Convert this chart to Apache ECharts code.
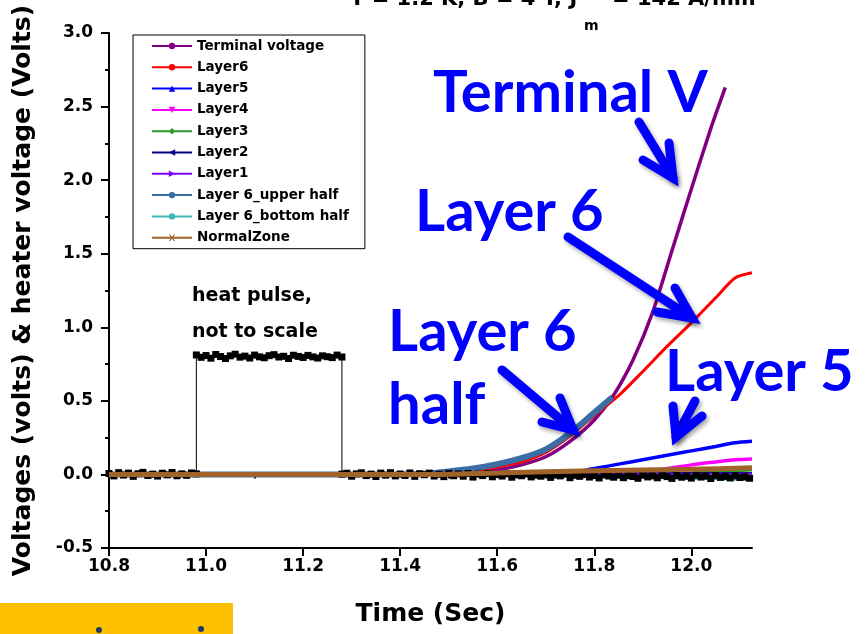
<!DOCTYPE html>
<html>
<head>
<meta charset="utf-8">
<script src="https://cdn.jsdelivr.net/npm/echarts@6/dist/echarts.min.js"></script>
<style>
  html, body { margin: 0; padding: 0; background: #ffffff; }
  #chart { width: 865px; height: 634px; }
</style>
</head>
<body>
<div id="chart"></div>
<script>
// ---- Axis ticks ----
const xMajorTicks = [10.8, 11.0, 11.2, 11.4, 11.6, 11.8, 12.0];
const xMinorTicks = [10.9, 11.1, 11.3, 11.5, 11.7, 11.9, 12.1];

// ---- Quench voltages (time in s, voltage in V) ----
const terminalTime = [10.80, 11.45, 11.50, 11.55, 11.60, 11.65, 11.70, 11.75, 11.80, 11.84, 11.88, 11.92, 11.96, 12.00, 12.04, 12.07];
const terminalVolt = [0.000, 0.000, 0.005, 0.015, 0.030, 0.065, 0.120, 0.225, 0.370, 0.540, 0.780, 1.100, 1.520, 1.940, 2.350, 2.630];

const layer6Time = [10.80, 11.45, 11.50, 11.55, 11.60, 11.65, 11.70, 11.75, 11.80, 11.85, 11.90, 11.95, 12.00, 12.05, 12.09, 12.125];
const layer6Volt = [0.000, 0.000, 0.010, 0.025, 0.050, 0.085, 0.150, 0.260, 0.400, 0.535, 0.700, 0.870, 1.030, 1.200, 1.335, 1.370];

const layer5Time = [10.80, 11.70, 11.75, 11.80, 11.85, 11.90, 11.95, 12.00, 12.05, 12.09, 12.125];
const layer5Volt = [0.000, 0.000, 0.012, 0.040, 0.070, 0.100, 0.130, 0.160, 0.190, 0.215, 0.225];

const layer4Time = [10.80, 11.85, 11.90, 11.95, 12.00, 12.05, 12.09, 12.125];
const layer4Volt = [0.000, 0.000, 0.015, 0.040, 0.065, 0.085, 0.100, 0.105];

const layer3Time = [10.80, 11.90, 12.00, 12.125];
const layer3Volt = [0.000, 0.000, 0.010, 0.030];

const layer2Time = [10.80, 12.125];
const layer2Volt = [0.000, 0.010];

const layer1Time = [10.80, 12.125];
const layer1Volt = [0.000, 0.005];

const upperHalfTime = [10.80, 11.40, 11.45, 11.50, 11.55, 11.60, 11.65, 11.70, 11.75, 11.80, 11.837];
const upperHalfVolt = [0.000, 0.000, 0.005, 0.020, 0.040, 0.070, 0.110, 0.170, 0.280, 0.420, 0.525];

const bottomHalfTime = [10.80, 11.50, 11.70, 11.90, 12.125];
const bottomHalfVolt = [0.000, 0.000, -0.010, -0.020, -0.035];

const normalZoneTime = [10.80, 11.45, 11.60, 11.80, 12.00, 12.125];
const normalZoneVolt = [0.000, 0.000, 0.010, 0.025, 0.035, 0.045];

// ---- Heater trace, sampled every 10 ms ----
const heaterStep = 0.01;
const heaterPreStart = 10.80;   // before the pulse
const heaterPre = [0.006, -0.010, 0.012, -0.004, 0.009, -0.013, 0.005, 0.014, -0.007, 0.002,
                   -0.011, 0.008, -0.003, 0.013, -0.009, 0.004, -0.006, 0.010];
const heaterOnStart = 10.98;    // pulse plateau
const heaterOn = [0.812, 0.796, 0.808, 0.790, 0.815, 0.801, 0.788, 0.806, 0.817, 0.797,
                  0.804, 0.791, 0.811, 0.799, 0.793, 0.807, 0.814, 0.798, 0.803, 0.788,
                  0.810, 0.802, 0.795, 0.809, 0.799, 0.791, 0.806, 0.800, 0.794, 0.811, 0.798];
const heaterPostStart = 11.29;  // after the pulse
const heaterPost = [0.008, -0.012, 0.004, 0.011, -0.008, 0.002, -0.014, 0.009, -0.005, 0.012,
                    -0.010, 0.003, -0.007, 0.010, -0.013, 0.005, -0.002, 0.009, -0.011, 0.001,
                    -0.015, 0.007, -0.009, 0.004, -0.012, 0.006, -0.018, 0.002, -0.008, 0.005,
                    -0.016, -0.001, -0.011, 0.004, -0.019, -0.003, -0.009, 0.003, -0.017, -0.005,
                    -0.012, 0.001, -0.020, -0.004, -0.010, 0.002, -0.022, -0.006, -0.013, -0.001,
                    -0.018, -0.008, -0.024, -0.003, -0.011, -0.019, -0.005, -0.022, -0.009, -0.014,
                    -0.026, -0.004, -0.017, -0.010, -0.023, -0.006, -0.015, -0.027, -0.008, -0.019,
                    -0.012, -0.025, -0.005, -0.018, -0.011, -0.028, -0.007, -0.020, -0.013, -0.024,
                    -0.009, -0.021, -0.016, -0.026];

function zip(ts, vs) { return ts.map((t, i) => [t, vs[i]]); }
function sampled(start, vals) {
  return vals.map((v, i) => [+(start + i * heaterStep).toFixed(3), v]);
}
const heaterData = []
  .concat(sampled(heaterPreStart, heaterPre))
  .concat([[heaterOnStart, 0.004]])
  .concat(sampled(heaterOnStart, heaterOn))
  .concat([[heaterOnStart + (heaterOn.length - 1) * heaterStep, 0.002]])
  .concat(sampled(heaterPostStart, heaterPost));

const FONT = "'DejaVu Sans', Verdana, sans-serif";
const TRI_DOWN = 'path://M0,0 L10,0 L5,9 Z';
const CROSS = 'path://M0,0 L2,0 L5,3 L8,0 L10,0 L6,4.5 L10,9 L8,9 L5,6 L2,9 L0,9 L4,4.5 Z';

function lineSeries(name, ts, vs, color, width, symbol, z, rotate) {
  return {
    name, type: 'line', data: zip(ts, vs),
    symbol, symbolSize: 6, symbolRotate: rotate || 0,
    showSymbol: false, smooth: 0.25,
    lineStyle: { color, width }, itemStyle: { color },
    z, animation: false, silent: true
  };
}

const series = [
  lineSeries('Terminal voltage', terminalTime, terminalVolt, '#800080', 3.5, 'circle', 2),
  lineSeries('Layer6', layer6Time, layer6Volt, '#FF0000', 3, 'circle', 3),
  lineSeries('Layer5', layer5Time, layer5Volt, '#0000FF', 3.5, 'triangle', 3),
  lineSeries('Layer4', layer4Time, layer4Volt, '#FF00FF', 3.5, TRI_DOWN, 3),
  lineSeries('Layer3', layer3Time, layer3Volt, '#2E9B2E', 3, 'diamond', 3),
  lineSeries('Layer2', layer2Time, layer2Volt, '#000080', 2, 'triangle', 3, 90),
  lineSeries('Layer1', layer1Time, layer1Volt, '#8000FF', 2, 'triangle', 3, -90),
  lineSeries('Layer 6_upper half', upperHalfTime, upperHalfVolt, '#3A6EA5', 6, 'circle', 4),
  lineSeries('Layer 6_bottom half', bottomHalfTime, bottomHalfVolt, '#3FB5B5', 3, 'circle', 3),
  lineSeries('NormalZone', normalZoneTime, normalZoneVolt, '#A0642A', 5, CROSS, 6),
  {
    name: 'Heater', type: 'line', data: heaterData,
    symbol: 'rect', symbolSize: 7, showSymbol: true, showAllSymbol: true,
    lineStyle: { color: '#000000', width: 1 }, itemStyle: { color: '#000000' },
    z: 5, animation: false, silent: true
  }
];

const chart = echarts.init(document.getElementById('chart'), null, { renderer: 'canvas' });

const axisText = { color: '#000', fontFamily: FONT, fontWeight: 'bold', fontSize: 17 };

chart.setOption({
  animation: false,
  backgroundColor: '#ffffff',
  grid: { left: 109, right: 113, top: 33, bottom: 86, containLabel: false },
  legend: {
    data: series.slice(0, 10).map(s => s.name),
    orient: 'vertical', left: 133, top: 35,
    backgroundColor: '#ffffff', borderColor: '#000000', borderWidth: 1,
    padding: [4, 16, 4, 18],
    itemWidth: 40, itemHeight: 8, itemGap: 7.3,
    textStyle: { color: '#000', fontFamily: FONT, fontWeight: 'bold', fontSize: 13.5, lineHeight: 14 },
    selectedMode: false
  },
  xAxis: [
    {
      type: 'value', min: 10.8, max: 12.125, position: 'bottom',
      name: 'Time (Sec)', nameLocation: 'middle', nameGap: 54,
      nameTextStyle: { color: '#000', fontFamily: FONT, fontWeight: 'bold', fontSize: 25 },
      axisLine: { show: true, onZero: false, lineStyle: { color: '#000', width: 2 } },
      axisTick: { show: true, length: 8, inside: false, customValues: xMajorTicks, lineStyle: { color: '#000', width: 2 } },
      axisLabel: Object.assign({ margin: 10, customValues: xMajorTicks, formatter: v => v.toFixed(1) }, axisText),
      splitLine: { show: false }
    },
    {
      type: 'value', min: 10.8, max: 12.125, position: 'bottom', offset: 0,
      axisLine: { show: false },
      axisTick: { show: true, length: 4, inside: false, customValues: xMinorTicks, lineStyle: { color: '#000', width: 2 } },
      axisLabel: { show: false },
      splitLine: { show: false }
    }
  ],
  yAxis: {
    type: 'value', min: -0.5, max: 3.0, interval: 0.5,
    name: 'Voltages (volts) & heater voltage (Volts)', nameLocation: 'middle', nameGap: 73,
    nameTextStyle: { color: '#000', fontFamily: FONT, fontWeight: 'bold', fontSize: 25 },
    axisLine: { show: true, onZero: false, lineStyle: { color: '#000', width: 2 } },
    axisTick: { show: true, length: 8, inside: false, lineStyle: { color: '#000', width: 2 } },
    minorTick: { show: true, splitNumber: 2, length: 4, lineStyle: { color: '#000', width: 2 } },
    axisLabel: Object.assign({ margin: 16, formatter: v => v.toFixed(1) }, axisText),
    splitLine: { show: false }, minorSplitLine: { show: false }
  },
  series,
  graphic: buildAnnotations()
});

function buildAnnotations() {
  const blue = '#0000FF';
  const callFont = "bold 58px Lato, 'Open Sans', sans-serif";
  const arrowStyle = {
    stroke: blue, lineWidth: 9, fill: null, lineCap: 'round', lineJoin: 'miter',
    shadowBlur: 4, shadowColor: 'rgba(0,0,0,0.35)', shadowOffsetX: 2, shadowOffsetY: 3
  };
  const txt = (text, x, y, font, fill) => ({
    type: 'text', z: 100, silent: true,
    style: { text, x, y, font, fill: fill || '#000', align: 'left', verticalAlign: 'middle' }
  });
  const arrow = (pts) => ({ type: 'polyline', z: 99, silent: true, shape: { points: pts }, style: arrowStyle });
  return [
    // title line, mostly above the page edge
    txt('T = 1.2 K, B = 4 T, J', 350, 0, "bold 21px " + FONT),
    txt('m', 584, 26, "bold 14px " + FONT),
    txt('= 142 A/mm\u00B2', 612, 0, "bold 21px " + FONT),
    // heater note
    txt('heat pulse,', 192, 296, "bold 19px " + FONT),
    txt('not to scale', 192, 332, "bold 19px " + FONT),
    // callouts
    txt('Terminal V', 433, 93, callFont, blue),
    txt('Layer 6', 415, 212, callFont, blue),
    txt('Layer 6', 388, 332, callFont, blue),
    txt('half', 388, 405, callFont, blue),
    txt('Layer 5', 665, 372, callFont, blue),
    arrow([[639, 122], [673, 178]]), arrow([[643, 160], [673, 178], [669, 143]]),
    arrow([[568, 237], [692, 318]]), arrow([[657, 312], [692, 318], [675, 288]]),
    arrow([[502, 370], [573, 430]]), arrow([[542, 422], [573, 430], [560, 398]]),
    arrow([[695, 401], [676, 437]]), arrow([[673, 406], [676, 437], [702, 416]]),
    // banner strip at the lower left
    { type: 'rect', z: 100, silent: true, shape: { x: 0, y: 603, width: 233, height: 31 }, style: { fill: '#FFC000' } },
    { type: 'circle', z: 101, silent: true, shape: { cx: 99, cy: 630, r: 3 }, style: { fill: '#1F3864' } },
    { type: 'circle', z: 101, silent: true, shape: { cx: 201, cy: 629, r: 3 }, style: { fill: '#1F3864' } }
  ];
}
</script>
</body>
</html>
